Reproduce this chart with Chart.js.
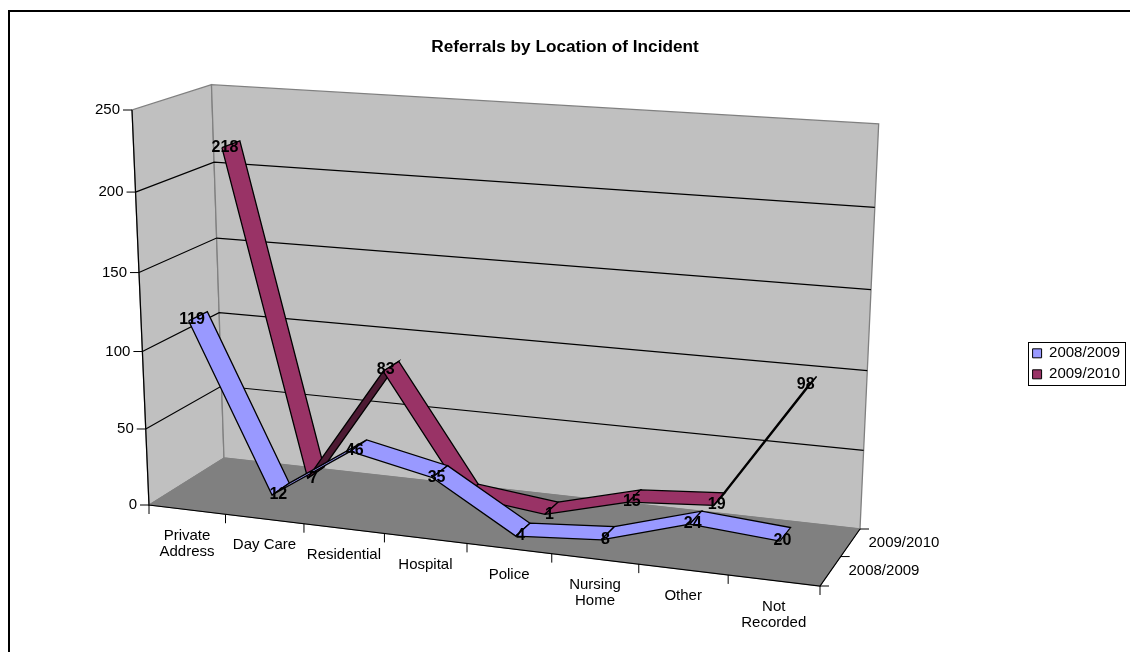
<!DOCTYPE html>
<html>
<head>
<meta charset="utf-8">
<title>Referrals by Location of Incident</title>
<script src="https://cdn.jsdelivr.net/npm/chart.js@4"></script>
<style>
  html, body { margin: 0; padding: 0; background: #fff; }
  canvas { display: block; }
</style>
</head>
<body>
<canvas id="chart" width="1130" height="652"></canvas>
<script>
// =======================
// DATA
// =======================

const chartTitle = "Referrals by Location of Incident";
const categories = [["Private", "Address"], ["Day Care"], ["Residential"], ["Hospital"], ["Police"], ["Nursing", "Home"], ["Other"], ["Not", "Recorded"]];
const seriesNames = ["2008/2009", "2009/2010"];
const values0809 = [119, 12, 46, 35, 4, 8, 24, 20];
const values0910 = [218, 7, 83, 7, 1, 15, 19, 98];
const valueTicks = [0, 50, 100, 150, 200, 250];
// the 2009/2010 hospital label is hidden behind the other ribbon in the original
const hiddenLabels0910 = [3];

const seriesColors = ["#9999FF", "#993366"];
const seriesUnderside = ["#4C4C80", "#4D1A33"];

// =======================
// 3D VIEW
// =======================

// corners of the box on the page, the chart's walls are spanned between them
const corner = {
  origin: [149, 505],  // front left, floor
  right: [820, 586],   // front right, floor
  up: [132, 110],      // front left, top
  back: [224, 458],    // back left, floor
  backRight: [860, 529],
  backUp: [211.5, 85]
};
const ribbonFront = 0.22, ribbonBack = 0.7;

function det3(m) {
  return m[0][0] * (m[1][1] * m[2][2] - m[1][2] * m[2][1])
    - m[0][1] * (m[1][0] * m[2][2] - m[1][2] * m[2][0])
    + m[0][2] * (m[1][0] * m[2][1] - m[1][1] * m[2][0]);
}

// weights of p, q so that a*p + b*q - k*r = o
function solveWeights(p, q, r, o) {
  const col = (v, s) => [v[0] * s, v[1] * s, s];
  const A = col(p, 1), B = col(q, 1), R = col(r, -1), O = col(o, 1);
  const build = (a, b, c) => [0, 1, 2].map(i => [a[i], b[i], c[i]]);
  const d = det3(build(A, B, R));
  return [det3(build(O, B, R)) / d, det3(build(A, O, R)) / d];
}

const floorW = solveWeights(corner.right, corner.back, corner.backRight, corner.origin);
const wallW = solveWeights(corner.up, corner.back, corner.backUp, corner.origin);

function axisDir(pt, weight) {
  return [pt[0] * weight - corner.origin[0], pt[1] * weight - corner.origin[1], weight - 1];
}
const dirU = axisDir(corner.right, floorW[0]);
const dirV = axisDir(corner.up, wallW[0]);
const dirW = axisDir(corner.back, floorW[1]);

// u: categories 0..8, v: value 0..250, w: depth 0..2
function project(u, v, w) {
  const a = u / categories.length, b = v / valueTicks[valueTicks.length - 1], c = w / seriesNames.length;
  const h = [0, 1, 2].map(i =>
    (i < 2 ? corner.origin[i] : 1) + a * dirU[i] + b * dirV[i] + c * dirW[i]);
  // small correction, the top right corner sits a bit lower than true perspective gives
  return { x: h[0] / h[2], y: h[1] / h[2] + 5 * a * b * b };
}

// =======================
// RIBBONS
// =======================

function ribbonSegments(values, seriesIndex) {
  let segments = [];
  const w0 = seriesIndex + ribbonFront, w1 = seriesIndex + ribbonBack;
  for (let i = 0; i < values.length - 1; i++) {
    const a = project(i + 0.5, values[i], w0);
    const b = project(i + 1.5, values[i + 1], w0);
    const c = project(i + 1.5, values[i + 1], w1);
    const d = project(i + 0.5, values[i], w1);
    const area = (b.x - a.x) * (d.y - a.y) - (b.y - a.y) * (d.x - a.x);
    segments.push({
      type: "scatter",
      label: seriesNames[seriesIndex] + " " + i,
      data: [a, b, c, d, a],
      showLine: true,
      borderColor: "#000",
      borderWidth: 1.3,
      pointRadius: 0,
      clip: false,
      faceColor: area > 0 ? seriesUnderside[seriesIndex] : seriesColors[seriesIndex]
    });
  }
  return segments;
}

// first dataset is drawn last
const datasets = [...ribbonSegments(values0910, 1), ...ribbonSegments(values0809, 0)].reverse();

// =======================
// PLUGIN: WALLS, AXES, LABELS
// =======================

function px(chart, p) {
  return { x: chart.scales.x.getPixelForValue(p.x), y: chart.scales.y.getPixelForValue(p.y) };
}

function path(ctx, chart, pts, fill, stroke, width) {
  ctx.beginPath();
  pts.forEach((p, i) => {
    const s = px(chart, p);
    if (i === 0) ctx.moveTo(s.x, s.y); else ctx.lineTo(s.x, s.y);
  });
  if (fill) {
    ctx.closePath();
    ctx.fillStyle = fill;
    ctx.fill();
  }
  if (stroke) {
    ctx.strokeStyle = stroke;
    ctx.lineWidth = width || 1;
    ctx.stroke();
  }
}

function label(ctx, text, x, y, align, font) {
  ctx.font = font;
  ctx.fillStyle = "#000";
  ctx.textAlign = align;
  ctx.textBaseline = "middle";
  ctx.fillText(text, x, y);
}

const axisFont = "15px 'Liberation Sans'";
const dataFont = "bold 16px 'Liberation Sans'";

const box3d = {
  id: "box3d",
  // pixel scales: one data unit is one page pixel, the title and legend keep their normal layout
  afterLayout(chart) {
    const { x, y } = chart.scales, area = chart.chartArea;
    x.min = area.left; x.max = area.right; x.configure();
    y.min = area.top; y.max = area.bottom; y.configure();
  },
  beforeDatasetsDraw(chart) {
    const ctx = chart.ctx;
    const n = categories.length, depth = seriesNames.length, top = valueTicks[valueTicks.length - 1];
    ctx.save();

    // page frame, top and left only
    ctx.strokeStyle = "#000";
    ctx.lineWidth = 2;
    ctx.beginPath();
    ctx.moveTo(1130, 11); ctx.lineTo(9, 11); ctx.lineTo(9, 652);
    ctx.stroke();

    const wallColor = "#C0C0C0", edge = "#808080";
    path(ctx, chart, [project(0, 0, 0), project(0, top, 0), project(0, top, depth), project(0, 0, depth)], wallColor, edge, 1.3);
    path(ctx, chart, [project(0, 0, depth), project(0, top, depth), project(n, top, depth), project(n, 0, depth)], wallColor, edge, 1.3);
    path(ctx, chart, [project(0, 0, 0), project(n, 0, 0), project(n, 0, depth), project(0, 0, depth)], "#808080", edge);

    // gridlines over both walls
    valueTicks.slice(1, -1).forEach(v => {
      path(ctx, chart, [project(0, v, 0), project(0, v, depth), project(n, v, depth)], null, "#000", 1.2);
    });

    // axis lines
    path(ctx, chart, [project(0, top, 0), project(0, 0, 0), project(n, 0, 0), project(n, 0, depth)], null, "#000", 1.2);

    // value axis
    valueTicks.forEach(v => {
      const p = project(0, v, 0);
      path(ctx, chart, [p, { x: p.x - 9, y: p.y }], null, "#000");
      const s = px(chart, p);
      label(ctx, String(v), s.x - 12, s.y, "right", axisFont);
    });

    // category axis
    for (let i = 0; i <= n; i++) {
      const p = project(i, 0, 0);
      path(ctx, chart, [p, { x: p.x, y: p.y + 9 }], null, "#000");
    }
    categories.forEach((lines, i) => {
      const s = px(chart, project(i + 0.5, 0, 0));
      lines.forEach((line, k) => label(ctx, line, s.x, s.y + 26 + k * 16.5, "center", axisFont));
    });

    // depth axis
    for (let k = 0; k <= depth; k++) {
      const p = project(n, 0, k);
      path(ctx, chart, [p, { x: p.x + 9, y: p.y }], null, "#000");
    }
    seriesNames.forEach((name, k) => {
      const s = px(chart, project(n, 0, k + 0.5));
      label(ctx, name, s.x + 18, s.y, "left", axisFont);
    });

    ctx.restore();
  },
  // each ribbon piece is a closed outline, fill it before the library strokes it
  beforeDatasetDraw(chart, args) {
    const pts = args.meta.data, ctx = chart.ctx;
    ctx.save();
    ctx.beginPath();
    pts.forEach((p, i) => {
      if (i === 0) ctx.moveTo(p.x, p.y); else ctx.lineTo(p.x, p.y);
    });
    ctx.closePath();
    ctx.fillStyle = chart.data.datasets[args.index].faceColor;
    ctx.fill();
    ctx.restore();
  },
  afterDatasetsDraw(chart) {
    const ctx = chart.ctx;
    ctx.save();
    [values0809, values0910].forEach((values, k) => {
      values.forEach((v, i) => {
        if (k === 1 && hiddenLabels0910.includes(i)) return;
        const s = px(chart, project(i + 0.5, v, k + (ribbonFront + ribbonBack) / 2));
        const dx = Math.max(-2 - 0.04 * v, -6), dy = Math.min(Math.max(8 - 0.06 * v, 3), 6);
        label(ctx, String(v), s.x + dx, s.y + dy, "center", dataFont);
      });
    });
    ctx.restore();
  },
  afterDraw(chart) {
    // legend border, around the rows only
    const ctx = chart.ctx, boxes = chart.legend.legendHitBoxes;
    const first = boxes[0], last = boxes[boxes.length - 1];
    ctx.save();
    ctx.strokeStyle = "#000";
    ctx.lineWidth = 1;
    ctx.strokeRect(Math.round(first.left) - 4.5, Math.round(first.top) - 3.5,
      Math.round(first.width) + 10, Math.round(last.top + last.height - first.top) + 7);
    ctx.restore();
  }
};

// =======================
// CHART
// =======================

const chart = new Chart(document.getElementById("chart").getContext("2d"), {
  type: "scatter",
  data: { datasets: datasets },
  plugins: [box3d],
  options: {
    responsive: false,
    animation: false,
    layout: { padding: { top: 37, right: 0, bottom: 0 } },
    scales: {
      x: { type: "linear", display: false, min: 0, max: 1130 },
      y: { type: "linear", display: false, min: 0, max: 652, reverse: true }
    },
    plugins: {
      tooltip: { enabled: false },
      title: {
        display: true,
        text: chartTitle,
        color: "#000",
        font: { family: "'Liberation Sans'", size: 17.2, weight: "bold" },
        padding: { top: 0, bottom: 18 }
      },
      legend: {
        position: "right",
        fullSize: false,
        labels: {
          boxWidth: 9,
          boxHeight: 9,
          padding: 6,
          color: "#000",
          font: { family: "'Liberation Sans'", size: 15 },
          generateLabels() {
            return seriesNames.map((name, i) => ({
              text: name,
              fillStyle: seriesColors[i],
              strokeStyle: "#000",
              lineWidth: 1,
              fontColor: "#000",
              hidden: false,
              datasetIndex: i
            }));
          }
        }
      }
    }
  }
});
</script>
</body>
</html>
